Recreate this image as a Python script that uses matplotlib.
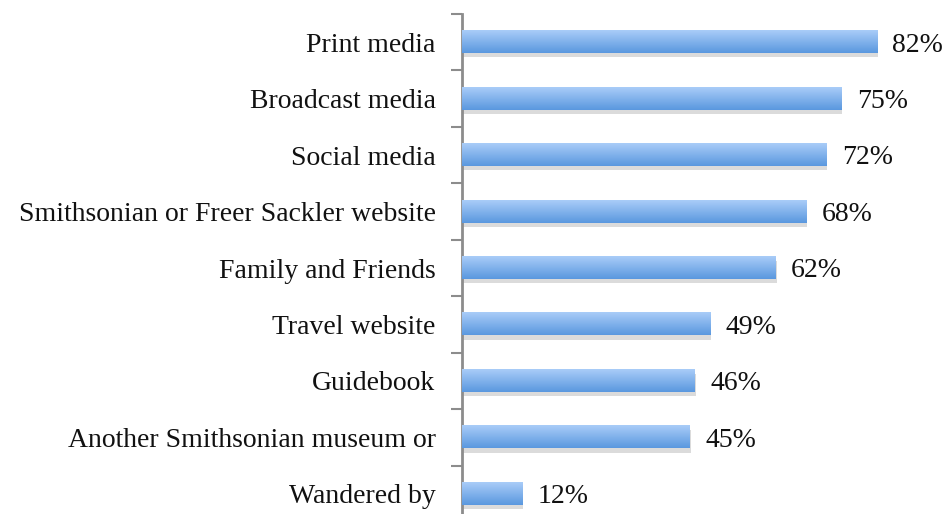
import numpy as np
import matplotlib.pyplot as plt
import matplotlib.patheffects as pe

# Where visitors heard about the museum (% of respondents)
sources = ["Print media", "Broadcast media", "Social media",
           "Smithsonian or Freer Sackler website", "Family and Friends",
           "Travel website", "Guidebook", "Another Smithsonian museum or",
           "Wandered by"]
percent = [82, 75, 72, 68, 62, 49, 46, 45, 12]

plt.rcParams['font.family'] = ['Liberation Serif', 'DejaVu Serif']

fig = plt.figure(figsize=(9.43, 5.14), dpi=100)
# axis runs a little past the bottom edge of the figure
ax = fig.add_axes([462 / 943, -8 / 514, 481 / 943, 508 / 514])

y = np.arange(len(sources))
bar_h = 0.39
# dark at the bottom of the bar, light on top (y axis is inverted)
grad = np.linspace(1, 0, 64).reshape(-1, 1)
cmap = plt.matplotlib.colors.LinearSegmentedColormap.from_list(
    "barblue", ["#a9ccf8", "#5a98df"])

bars = ax.barh(y, percent, height=bar_h, color="#7fb0ec", zorder=2)
for b, v in zip(bars, percent):
    b.set_path_effects([pe.SimplePatchShadow(offset=(0.5, -3), shadow_rgbFace="#888888", alpha=0.3),
                        pe.Normal()])
    x0, y0 = b.get_x(), b.get_y()
    ax.imshow(grad, cmap=cmap, aspect="auto", zorder=3,
              extent=[x0, x0 + b.get_width(), y0, y0 + b.get_height()])
    ax.text(v + 3.0, b.get_y() + b.get_height() / 2 + 0.05, f"{v}%",
            va="center", ha="left", fontsize=20, color="#111111")

ax.set_xlim(0, 95)
ax.set_ylim(len(sources) - 0.5, -0.5)

ax.set_yticks(y)
ax.set_yticklabels(sources, fontsize=20, color="#111111")
ax.set_yticks(np.arange(-0.5, len(sources), 1), minor=True)
ax.tick_params(axis="y", which="major", length=0, pad=19)
ax.tick_params(axis="y", which="minor", length=8, width=1.5, color="#8c8c8c")
ax.set_xticks([])

for s in ["top", "right", "bottom"]:
    ax.spines[s].set_visible(False)
ax.spines["left"].set_color("#8c8c8c")
ax.spines["left"].set_linewidth(2)

fig.savefig("out.png", dpi=100)
